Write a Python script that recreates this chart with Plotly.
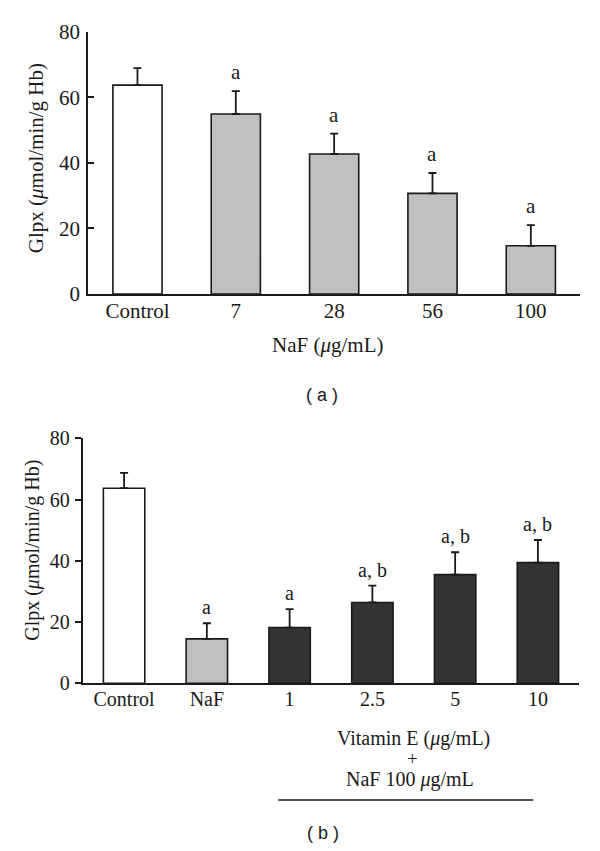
import plotly.graph_objects as go

# panel (a): NaF dose series
cats_a = ["Control", "7", "28", "56", "100"]
glpx_a = [63.7, 54.9, 42.7, 30.7, 14.7]
sd_a = [5.2, 7.0, 6.2, 6.2, 6.3]
sig_a = ["", "a", "a", "a", "a"]

# panel (b): vitamin E + NaF 100
cats_b = ["Control", "NaF", "1", "2.5", "5", "10"]
glpx_b = [63.7, 14.5, 18.2, 26.4, 35.5, 39.4]
sd_b = [5.0, 5.1, 6.0, 5.5, 7.3, 7.4]
sig_b = ["", "a", "a", "a, b", "a, b", "a, b"]

WHITE = "#ffffff"
GRAY = "#c0c0c0"
DARK = "#333333"
INK = "#1a1a1a"
SERIF = "Liberation Serif"
PAGE = 8  # default body margin of the html page
W, H = 600 - PAGE, 851 - PAGE
FA, FB = 21, 20  # panel (a) is drawn a bit larger than panel (b)

colors_a = [WHITE] + [GRAY] * 4
colors_b = [WHITE, GRAY] + [DARK] * 4


def px_x(x):
    return (x - PAGE) / W


def px_y(y):
    return 1 - (y - PAGE) / H


def label(x, y, text, size, family=SERIF, angle=0):
    return dict(x=px_x(x), y=px_y(y), xref="paper", yref="paper", text=text,
                showarrow=False, xanchor="center", yanchor="middle", textangle=angle,
                font=dict(family=family, size=size, color=INK))


fig = go.Figure()

fig.add_trace(go.Bar(
    x=cats_a, y=glpx_a, width=0.5,
    marker=dict(color=colors_a, line=dict(color=INK, width=1.6)),
    error_y=dict(type="data", symmetric=False, array=sd_a,
                 arrayminus=[0] * len(sd_a), color=INK, thickness=1.8, width=4),
    xaxis="x", yaxis="y", showlegend=False,
))

fig.add_trace(go.Bar(
    x=cats_b, y=glpx_b, width=0.5,
    marker=dict(color=colors_b, line=dict(color=INK, width=1.6)),
    error_y=dict(type="data", symmetric=False, array=sd_b,
                 arrayminus=[0] * len(sd_b), color=INK, thickness=1.8, width=4),
    xaxis="x2", yaxis="y2", showlegend=False,
))

# significance letters, placed by category index (category axes)
ann = []
for i, (v, s, t) in enumerate(zip(glpx_a, sd_a, sig_a)):
    if t:
        ann.append(dict(x=i, y=v + s, xref="x", yref="y", text=t, showarrow=False,
                        xanchor="center", yanchor="middle", yshift=19,
                        font=dict(family=SERIF, size=FA, color=INK)))
for i, (v, s, t) in enumerate(zip(glpx_b, sd_b, sig_b)):
    if t:
        ann.append(dict(x=i, y=v + s, xref="x2", yref="y2", text=t, showarrow=False,
                        xanchor="center", yanchor="middle", yshift=16,
                        font=dict(family=SERIF, size=FB, color=INK)))

# axis titles and captions
ann += [
    label(35.7, 158.5, "Glpx (<i>μ</i>mol/min/g Hb)", FA, angle=-90),
    label(327.7, 345, "NaF (<i>μ</i>g/mL)", FA),
    label(322.3, 395, "( a )", 18, family="Liberation Sans"),
    label(32.3, 550.5, "Glpx (<i>μ</i>mol/min/g Hb)", FB, angle=-90),
    label(413.3, 738, "Vitamin E (<i>μ</i>g/mL)", FB),
    label(412, 758, "+", 19),
    label(410, 779, "NaF 100 <i>μ</i>g/mL", FB),
    label(323.3, 833.3, "( b )", 18, family="Liberation Sans"),
]

fig.add_shape(type="line", xref="paper", yref="paper",
              x0=px_x(278.3), x1=px_x(533.3), y0=px_y(800), y1=px_y(800),
              line=dict(color=INK, width=1.5))

axis_common = dict(showline=True, linecolor=INK, linewidth=2, showgrid=False,
                   zeroline=False, color=INK, automargin=False)

fig.update_layout(
    width=W, height=H,
    margin=dict(l=0, r=0, t=0, b=0),
    paper_bgcolor="white", plot_bgcolor="white",
    xaxis=dict(domain=[px_x(88.3), px_x(580)], anchor="y", type="category",
               range=[-0.5, 4.5], ticks="", ticklabelstandoff=-3,
               tickfont=dict(family=SERIF, size=FA, color=INK), **axis_common),
    yaxis=dict(domain=[px_y(294), px_y(31.7)], anchor="x", range=[0, 80],
               tickvals=[0, 20, 40, 60, 80], ticks="inside", ticklen=6, tickwidth=2,
               tickcolor=INK, ticklabelstandoff=2,
               tickfont=dict(family=SERIF, size=FA, color=INK), **axis_common),
    xaxis2=dict(domain=[px_x(82.7), px_x(579.3)], anchor="y2", type="category",
                range=[-0.5, 5.5], ticks="", ticklabelstandoff=-3,
                tickfont=dict(family=SERIF, size=FB, color=INK), **axis_common),
    yaxis2=dict(domain=[px_y(683.3), px_y(438.3)], anchor="x2", range=[0, 80],
                tickvals=[0, 20, 40, 60, 80], ticks="outside", ticklen=6, tickwidth=2,
                tickcolor=INK, ticklabelstandoff=1,
                tickfont=dict(family=SERIF, size=FB, color=INK), **axis_common),
    annotations=ann,
)

fig.write_html("out.html")
